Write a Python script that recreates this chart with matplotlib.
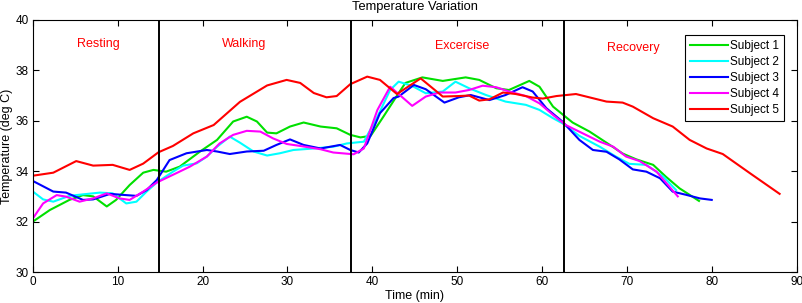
import matplotlib
matplotlib.use("Agg")
import matplotlib.pyplot as plt

plt.rcParams['font.family'] = ['Liberation Sans', 'DejaVu Sans']

# Subject 1 (green)
t1 = [0, 2, 4.3, 5.9, 7.1, 8.7, 9.8, 11.4, 13, 14.2, 15.7, 17.3, 19.7, 21.7, 23.6, 25.2, 26.4, 27.6, 28.7,
      30.3, 31.9, 33.9, 35.8, 37.4, 38.6, 39.8, 41.3, 43.3, 43.9, 45.9, 48.3, 51, 52.6, 54.6, 56.1, 58.5,
      59.7, 61.3, 62.5, 63.6, 65.6, 68, 69.5, 71.1, 73.1, 74.6, 76.2, 78.5]
s1 = [32.0, 32.46, 32.86, 33.05, 33.0, 32.6, 32.86, 33.45, 33.94, 34.05, 33.98, 34.18, 34.78, 35.24, 35.97,
      36.16, 35.97, 35.53, 35.5, 35.77, 35.93, 35.77, 35.7, 35.44, 35.34, 35.4, 36.16, 37.2, 37.5, 37.72,
      37.58, 37.72, 37.62, 37.29, 37.22, 37.58, 37.35, 36.56, 36.23, 35.93, 35.57, 35.04, 34.7, 34.47,
      34.25, 33.78, 33.32, 32.82]

# Subject 2 (cyan)
t2 = [0, 1.2, 2.4, 4.3, 5.9, 7.9, 9.4, 11, 12.2, 13.4, 14.6, 16.5, 17.7, 19.3, 20.5, 21.7, 23.2, 24.4, 26,
      27.6, 29.1, 30.7, 33.1, 35.4, 37, 39, 40.6, 42.1, 43.1, 44.7, 46.3, 48.3, 49.8, 51.4, 53.4, 55.7,
      58.1, 59.7, 61.3, 62.4, 64.4, 66.8, 68.7, 70.3, 72.3, 74.3, 75.8]
s2 = [33.19, 32.88, 32.79, 33.02, 33.08, 33.15, 33.12, 32.72, 32.79, 33.19, 33.55, 33.98, 34.22, 34.31,
      34.58, 34.97, 35.37, 35.13, 34.78, 34.62, 34.71, 34.84, 34.9, 34.97, 35.1, 35.17, 36.16, 37.22,
      37.55, 37.38, 37.09, 37.16, 37.55, 37.29, 37.02, 36.76, 36.63, 36.43, 36.1, 35.9, 35.4, 34.97,
      34.58, 34.29, 34.25, 33.78, 33.25]

# Subject 3 (blue)
t3 = [0, 2.4, 3.9, 5.9, 7.1, 9.1, 10.6, 12.2, 13.4, 14.6, 16.1, 18.1, 20.5, 21.7, 23.2, 25.2, 27.2, 28.7,
      30.3, 31.9, 33.9, 36.2, 37.4, 38.4, 39.4, 40.9, 42.5, 43.1, 44.9, 46.3, 48.5, 50.2, 51.6, 53.8, 55.7,
      57.7, 58.9, 60.5, 62.4, 64.4, 66, 67.6, 69.1, 70.7, 72.3, 73.9, 75.4, 77, 78.6, 80]
s3 = [33.61, 33.19, 33.15, 32.86, 32.88, 33.1, 33.06, 33.02, 33.25, 33.65, 34.44, 34.71, 34.84, 34.78,
      34.68, 34.78, 34.81, 35.04, 35.26, 35.04, 34.9, 35.04, 34.84, 34.74, 35.1, 36.3, 36.9, 36.96, 37.42,
      37.25, 36.72, 36.93, 37.02, 36.82, 37.02, 37.33, 37.16, 36.5, 35.97, 35.24, 34.84, 34.77, 34.47,
      34.07, 33.98, 33.72, 33.19, 33.06, 32.92, 32.86]

# Subject 4 (magenta)
t4 = [0, 1.2, 2.8, 3.9, 5.5, 7.1, 8.7, 10.2, 11.4, 13, 14.6, 16.9, 18.5, 20.5, 22, 23.6, 25.2, 26.8, 28.3,
      29.9, 31.5, 33.9, 35.4, 37.8, 39, 40.6, 42.1, 43.3, 44.7, 46.3, 47.9, 49.8, 51.4, 53, 54.6, 56.1,
      58.1, 59.7, 61.3, 62.8, 64.8, 66.8, 68.4, 69.9, 71.5, 73.5, 75, 76]
s4 = [32.13, 32.72, 33.05, 32.99, 32.79, 32.92, 33.12, 32.92, 32.86, 33.19, 33.55, 33.92, 34.18, 34.58,
      35.1, 35.44, 35.6, 35.57, 35.3, 35.08, 35.0, 34.87, 34.74, 34.67, 34.9, 36.43, 37.35, 37.0, 36.59,
      36.96, 37.12, 37.12, 37.22, 37.39, 37.33, 37.16, 36.98, 36.69, 36.23, 35.83, 35.5, 35.17, 34.97,
      34.58, 34.4, 33.98, 33.39, 33.0]

# Subject 5 (red)
t5 = [0, 2.4, 5.1, 7.1, 9.4, 11.4, 13, 14.8, 16.5, 18.9, 21.3, 24.4, 27.6, 29.9, 31.5, 33.1, 34.6, 35.8,
      37.4, 39.4, 40.9, 42.9, 45.7, 48.3, 50.2, 51.4, 52.6, 53.8, 55.4, 56.9, 58.9, 60.1, 61.7, 64, 65.2,
      67.6, 69.5, 70.7, 73.1, 75.4, 77.4, 79.4, 81.3, 84.5, 88]
s5 = [33.82, 33.94, 34.4, 34.22, 34.25, 34.05, 34.3, 34.75, 35.0, 35.5, 35.83, 36.75, 37.4, 37.62, 37.5,
      37.1, 36.93, 36.98, 37.45, 37.75, 37.62, 37.06, 37.68, 36.96, 36.98, 37.0, 36.8, 36.85, 37.12, 37.06,
      36.92, 36.88, 36.98, 37.06, 36.96, 36.76, 36.72, 36.56, 36.1, 35.77, 35.24, 34.9, 34.68, 33.92, 33.1]

phase_bounds = [14.8, 37.5, 62.6]
phase_names = ["Resting", "Walking", "Excercise", "Recovery"]
phase_x = [7.7, 24.9, 50.6, 70.7]
phase_y = [39.05, 39.05, 38.95, 38.9]

series = [(t1, s1, "#00e000", "Subject 1"),
          (t2, s2, "#00ffff", "Subject 2"),
          (t3, s3, "#0000ff", "Subject 3"),
          (t4, s4, "#ff00ff", "Subject 4"),
          (t5, s5, "#ff0000", "Subject 5")]

fig = plt.figure(figsize=(8.03, 3.03), dpi=100)
ax = fig.add_axes([0.041, 0.1023, 0.951, 0.832])

for t, s, c, lab in series:
    ax.plot(t, s, color=c, lw=1.5, label=lab)

for b in phase_bounds:
    ax.axvline(b, color='black', lw=1.4)

for name, x, y in zip(phase_names, phase_x, phase_y):
    ax.text(x, y, name, color='red', fontsize=9, ha='center', va='center')

ax.set_xlim(0, 90)
ax.set_ylim(30, 40)
ax.set_xticks(range(0, 91, 10))
ax.set_yticks(range(30, 41, 2))
ax.tick_params(direction='in', top=True, right=True, labelsize=8.5, length=4, width=0.8, pad=3)
ax.set_xlabel("Time (min)", fontsize=9, labelpad=1)
ax.set_ylabel("Temperature (deg C)", fontsize=9, labelpad=2)
ax.set_title("Temperature Variation", fontsize=9.3, pad=7)
for sp in ax.spines.values():
    sp.set_linewidth(0.8)

leg = ax.legend(loc='upper right', bbox_to_anchor=(0.983, 0.94), fontsize=8.5, fancybox=False,
                edgecolor='black', framealpha=1, handlelength=3.2, handletextpad=0.2,
                borderpad=0.4, labelspacing=0.35, borderaxespad=0)
leg.get_frame().set_linewidth(0.8)

fig.savefig("out.png", dpi=100)
